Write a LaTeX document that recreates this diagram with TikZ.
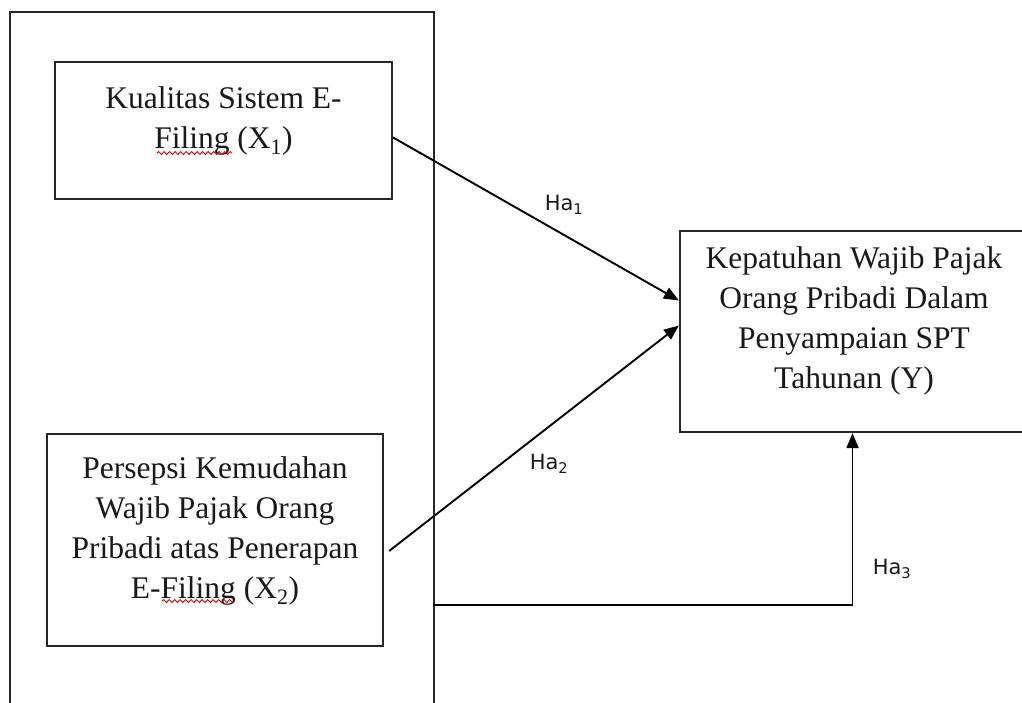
\documentclass[tikz,border=0pt]{standalone}
\usepackage{fontspec}
\setmainfont{Liberation Serif}
\newfontfamily\labfont{DejaVu Sans}
\usetikzlibrary{arrows.meta,decorations.pathmorphing}
\tikzset{
  boxnode/.style={draw=black!85, line width=2.2pt, inner sep=0pt},
  txt/.style={align=center, font=\fontsize{31.5}{40}\selectfont, text=black!90, inner sep=0pt},
  lab/.style={font=\labfont\fontsize{21}{24}\selectfont, text=black!90, inner sep=0pt},
  conn/.style={draw=black, line width=1.9pt, -{Triangle[length=15pt,width=12pt]}},
  squig/.style={draw=red!85!black, line width=0.9pt, decorate, decoration={snake, segment length=5.5pt, amplitude=1.4pt}}
}
\begin{document}
\begin{tikzpicture}[x=1pt,y=-1pt]
\useasboundingbox (0,0) rectangle (1022,702);
\fill[white] (0,0) rectangle (1022,702);
\clip (0,0) rectangle (1022,702);
% outer frame
\node[boxnode, minimum width=424pt, minimum height=708pt] (outer) at (222,366) {};
% boxes
\node[boxnode, minimum width=337pt, minimum height=137pt] (x1) at (223.5,130.5) {};
\node[boxnode, minimum width=336pt, minimum height=212pt] (x2) at (215,540) {};
\node[boxnode, minimum width=345pt, minimum height=201pt] (y) at (852.5,331.5) {};
% texts
\node[txt] (tx1) at (223.5,121) {Kualitas Sistem E-\\Filing (X\textsubscript{1})};
\node[txt] (tx2) at (215,531) {Persepsi Kemudahan\\Wajib Pajak Orang\\Pribadi atas Penerapan\\E-Filing (X\textsubscript{2})};
\node[txt] (ty) at (854,321) {Kepatuhan Wajib Pajak\\Orang Pribadi Dalam\\Penyampaian SPT\\Tahunan (Y)};
% spell-check underlines
\draw[squig] (157,153) -- (232,153);
\draw[squig] (162,601) -- (235,601);
% connectors
\draw[conn] ([yshift=-7pt]x1.east) -- ([yshift=31pt]y.west);
\draw[conn] ([xshift=5pt,yshift=-11pt]x2.east) -- ([yshift=6pt]y.west);
\coordinate (h3) at (434,605);
\draw[conn] (h3) -| (y.south);
% labels
\node[lab] (l1) at (564,205) {Ha\textsubscript{1}};
\node[lab] (l2) at (549,464) {Ha\textsubscript{2}};
\node[lab] (l3) at (892,569) {Ha\textsubscript{3}};
\end{tikzpicture}
\end{document}
